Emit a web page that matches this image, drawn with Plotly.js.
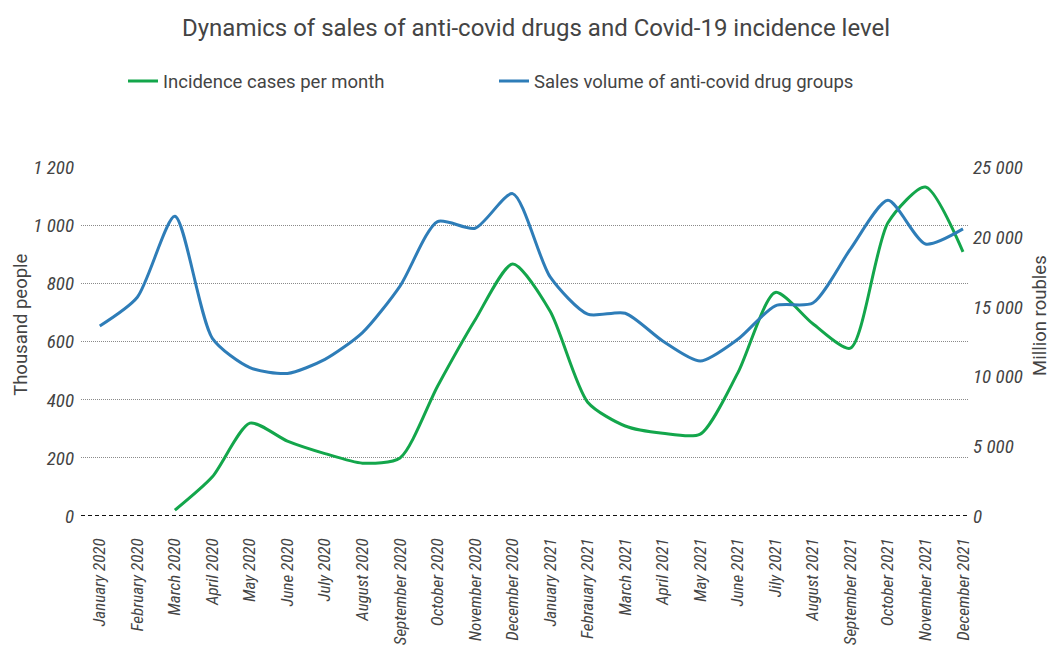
<!DOCTYPE html>
<html>
<head>
<meta charset="utf-8">
<script src="https://cdn.plot.ly/plotly-3.0.1.min.js"></script>
<style>
  html, body { margin: 0; padding: 0; background: #fff; }
  #chart { width: 1051px; height: 645px; }
</style>
</head>
<body>
<div id="chart"></div>
<script>
// Months shown along the category axis
const months = [
  "January 2020", "February 2020", "March 2020", "April 2020", "May 2020", "June 2020",
  "July 2020", "August 2020", "September 2020", "October 2020", "November 2020", "December 2020",
  "January 2021", "Febrauary 2021", "March 2021", "April 2021", "May 2021", "June 2021",
  "Jily 2021", "August 2021", "September 2021", "October 2021", "November 2021", "December 2021"
];

// Incidence cases per month, thousand people (left axis); no data before March 2020
const incidence = [
  null, null, 20, 135, 320, 258, 215, 182, 200, 447, 675, 868,
  705, 392, 310, 285, 282, 493, 770, 662, 578, 1010, 1133, 910
];

// Sales volume of anti-covid drug groups, million roubles (right axis)
const sales = [
  13640, 15700, 21500, 12750, 10650, 10230, 11240, 13160, 16500, 21130, 20650, 23130,
  17150, 14480, 14550, 12560, 11120, 12680, 15080, 15280, 19150, 22650, 19520, 20600
];

const condensed = "Roboto Condensed, Liberation Sans Narrow, Roboto, sans-serif";
const yTickFont = { family: condensed, size: 19, color: "#444", style: "italic" };
const xTickFont = { family: condensed, size: 17, color: "#444", style: "italic" };
const axisTitleFont = { family: "Roboto, sans-serif", size: 18.5, color: "#444" };

const traces = [
  {
    x: months, y: incidence, name: "Incidence cases per month",
    type: "scatter", mode: "lines", yaxis: "y",
    line: { color: "#13a64b", width: 3, shape: "spline", smoothing: 0.7 },
    connectgaps: false
  },
  {
    x: months, y: sales, name: "Sales volume of anti-covid drug groups",
    type: "scatter", mode: "lines", yaxis: "y2",
    line: { color: "#2e7db8", width: 3, shape: "spline", smoothing: 0.7 }
  }
];

const layout = {
  width: 1051, height: 645,
  margin: { l: 81, r: 82, t: 167, b: 129 },
  paper_bgcolor: "#fff", plot_bgcolor: "#fff",
  separators: ", ",
  font: { family: "Roboto, sans-serif", color: "#444" },
  title: {
    text: "Dynamics of sales of anti-covid drugs and Covid-19 incidence level",
    font: { family: "Roboto, sans-serif", size: 24, color: "#444" },
    x: 0.51, xanchor: "center", y: 0.957, yanchor: "middle"
  },
  showlegend: true,
  legend: {
    orientation: "h", x: 0.0473, xanchor: "left", y: 1.245, yanchor: "middle",
    font: { family: "Roboto, sans-serif", size: 18.5, color: "#444" },
    entrywidth: 326, entrywidthmode: "pixels", itemwidth: 30,
    bgcolor: "rgba(0,0,0,0)"
  },
  xaxis: {
    type: "category", range: [-0.5, 23.16],
    tickangle: -90, tickfont: xTickFont, ticklabelstandoff: 18,
    showgrid: false, zeroline: false, showline: false, ticks: "",
    automargin: false, fixedrange: true
  },
  yaxis: {
    range: [0, 1202], dtick: 200, tickformat: ",",
    showgrid: true, gridcolor: "#8a8a8a", griddash: "1px,1px", gridwidth: 1,
    zeroline: false, showline: false, ticks: "",
    tickfont: yTickFont, ticklabelstandoff: 6, automargin: false
  },
  yaxis2: {
    overlaying: "y", side: "right",
    range: [0, 25041.7], dtick: 5000, tickformat: ",",
    showgrid: false, zeroline: false, showline: false, ticks: "",
    tickfont: yTickFont, ticklabelstandoff: 3, automargin: false
  },
  annotations: [
    {
      text: "Thousand people", xref: "paper", yref: "paper",
      x: -0.0676, y: 0.5476, xanchor: "center", yanchor: "middle",
      textangle: -90, showarrow: false, font: axisTitleFont
    },
    {
      text: "Million roubles", xref: "paper", yref: "paper",
      x: 1.080, y: 0.5735, xanchor: "center", yanchor: "middle",
      textangle: -90, showarrow: false, font: axisTitleFont
    }
  ],
  shapes: [
    {
      type: "line", xref: "paper", yref: "y", x0: 0, x1: 1, y0: 0, y1: 0,
      line: { color: "#111", width: 2.2, dash: "4px,3px" }, layer: "below"
    }
  ]
};

Plotly.newPlot("chart", traces, layout, { displayModeBar: false, staticPlot: true });
</script>
</body>
</html>
